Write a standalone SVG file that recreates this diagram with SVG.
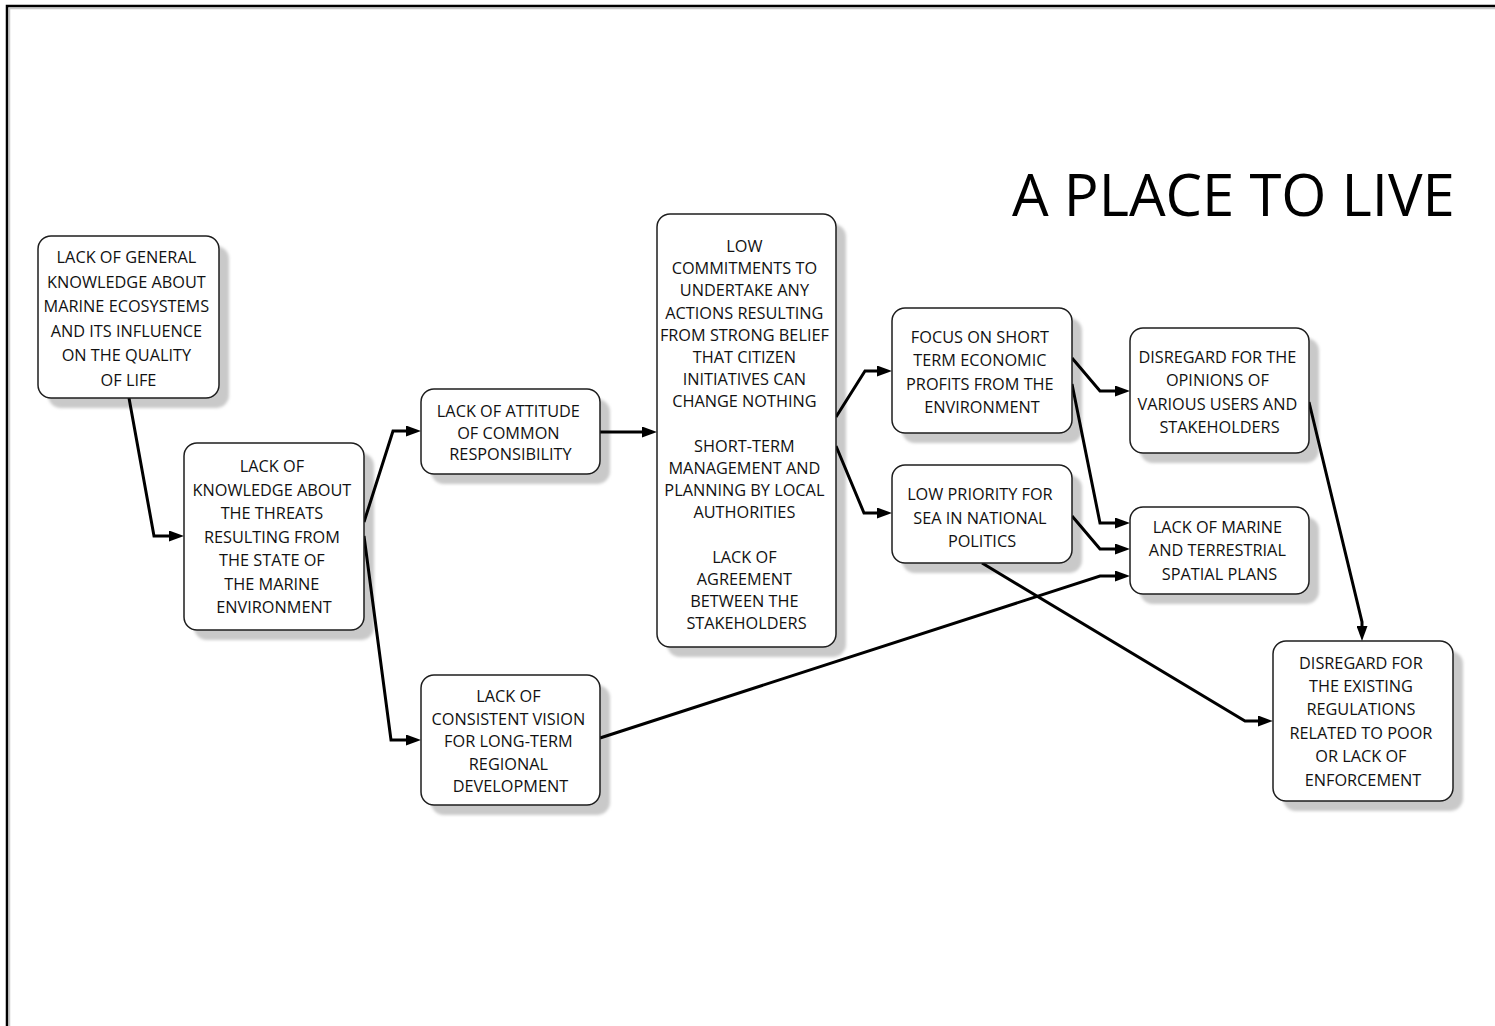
<svg xmlns="http://www.w3.org/2000/svg" width="1495" height="1026" viewBox="0 0 1495 1026">
  <defs>
    <style>
      .box { fill: #ffffff; stroke: #1e1e1e; stroke-width: 1.5; }
      .shadow { fill: #c9c9c9; filter: url(#soft); }
      .lbl { font-family: "Open Sans", "Noto Sans", "DejaVu Sans", sans-serif; font-size: 16.3px; fill: #111111; text-anchor: middle; }
      .title { font-family: "Open Sans", "Noto Sans", "DejaVu Sans", sans-serif; font-size: 58px; fill: #000000; }
      .edge { fill: none; stroke: #000000; stroke-width: 3; stroke-linejoin: miter; marker-end: url(#arrow); }
    </style>
    <filter id="soft" x="-20%" y="-20%" width="140%" height="140%">
      <feGaussianBlur stdDeviation="1.6"/>
    </filter>
    <marker id="arrow" viewBox="0 0 15 11" refX="1" refY="5.5" markerWidth="15" markerHeight="11" markerUnits="userSpaceOnUse" orient="auto">
      <path d="M0,0 L15,5.5 L0,11 z" fill="#000000"/>
    </marker>
  </defs>

  <rect width="1495" height="1026" fill="#ffffff"/>

  <!-- page frame -->
  <g id="frame">
    <path d="M9.5,1030 L9.5,8.5 L1500,8.5" fill="none" stroke="#c8c8c8" stroke-width="1.5"/>
    <path d="M7,1030 L7,6 L1500,6" fill="none" stroke="#000000" stroke-width="2.5"/>
  </g>

  <text id="title" class="title" x="1012" y="216">A PLACE TO LIVE</text>

  <!-- shadows -->
  <g id="shadows">
    <rect class="shadow" x="48" y="246" width="181" height="162" rx="13"/>
    <rect class="shadow" x="194" y="453" width="180" height="187" rx="13"/>
    <rect class="shadow" x="431" y="399" width="179" height="85" rx="13"/>
    <rect class="shadow" x="667" y="224" width="179" height="433" rx="13"/>
    <rect class="shadow" x="902" y="318" width="180" height="125" rx="13"/>
    <rect class="shadow" x="902" y="475" width="180" height="98" rx="13"/>
    <rect class="shadow" x="1140" y="338" width="179" height="125" rx="13"/>
    <rect class="shadow" x="1140" y="517" width="179" height="87" rx="13"/>
    <rect class="shadow" x="1283" y="651" width="180" height="160" rx="13"/>
    <rect class="shadow" x="431" y="685" width="179" height="130" rx="13"/>
  </g>

  <!-- connectors -->
  <g id="connectors">
    <path class="edge" d="M129,398 L154,536 L170,536"/>
    <path class="edge" d="M364,522 L393,431 L407,431"/>
    <path class="edge" d="M364,536 L391,740 L407,740"/>
    <path class="edge" d="M600,432 L643,432"/>
    <path class="edge" d="M836,417 L865,371 L878,371"/>
    <path class="edge" d="M836,446 L864,513 L878,513"/>
    <path class="edge" d="M1072,358 L1100,391 L1116,391"/>
    <path class="edge" d="M1072,384 L1100,523 L1116,523"/>
    <path class="edge" d="M1072,516 L1100,549 L1116,549"/>
    <path class="edge" d="M600,738 L1100,576 L1116,576"/>
    <path class="edge" d="M982,563 L1245,721 L1259,721"/>
    <path class="edge" d="M1309,402 L1362,622 L1362,627"/>
  </g>

  <g id="n1">
    <rect class="box" x="38" y="236" width="181" height="162" rx="13"/>
    <text class="lbl">
      <tspan x="128.5" y="263">LACK OF GENERAL</tspan>
      <tspan x="128.5" y="287.5">KNOWLEDGE ABOUT</tspan>
      <tspan x="128.5" y="312">MARINE ECOSYSTEMS</tspan>
      <tspan x="128.5" y="336.5">AND ITS INFLUENCE</tspan>
      <tspan x="128.5" y="361">ON THE QUALITY</tspan>
      <tspan x="128.5" y="385.5">OF LIFE</tspan>
    </text>
  </g>

  <g id="n2">
    <rect class="box" x="184" y="443" width="180" height="187" rx="13"/>
    <text class="lbl">
      <tspan x="274" y="472">LACK OF</tspan>
      <tspan x="274" y="495.5">KNOWLEDGE ABOUT</tspan>
      <tspan x="274" y="519">THE THREATS</tspan>
      <tspan x="274" y="542.5">RESULTING FROM</tspan>
      <tspan x="274" y="566">THE STATE OF</tspan>
      <tspan x="274" y="589.5">THE MARINE</tspan>
      <tspan x="274" y="613">ENVIRONMENT</tspan>
    </text>
  </g>

  <g id="n3">
    <rect class="box" x="421" y="389" width="179" height="85" rx="13"/>
    <text class="lbl">
      <tspan x="510.5" y="417">LACK OF ATTITUDE</tspan>
      <tspan x="510.5" y="438.5">OF COMMON</tspan>
      <tspan x="510.5" y="460">RESPONSIBILITY</tspan>
    </text>
  </g>

  <g id="n4">
    <rect class="box" x="657" y="214" width="179" height="433" rx="13"/>
    <text class="lbl">
      <tspan x="746.5" y="252">LOW</tspan>
      <tspan x="746.5" y="274.2">COMMITMENTS TO</tspan>
      <tspan x="746.5" y="296.4">UNDERTAKE ANY</tspan>
      <tspan x="746.5" y="318.6">ACTIONS RESULTING</tspan>
      <tspan x="746.5" y="340.8">FROM STRONG BELIEF</tspan>
      <tspan x="746.5" y="363">THAT CITIZEN</tspan>
      <tspan x="746.5" y="385.2">INITIATIVES CAN</tspan>
      <tspan x="746.5" y="407.4">CHANGE NOTHING</tspan>
      <tspan x="746.5" y="451.8">SHORT-TERM</tspan>
      <tspan x="746.5" y="474">MANAGEMENT AND</tspan>
      <tspan x="746.5" y="496.2">PLANNING BY LOCAL</tspan>
      <tspan x="746.5" y="518.4">AUTHORITIES</tspan>
      <tspan x="746.5" y="562.8">LACK OF</tspan>
      <tspan x="746.5" y="585">AGREEMENT</tspan>
      <tspan x="746.5" y="607.2">BETWEEN THE</tspan>
      <tspan x="746.5" y="629.4">STAKEHOLDERS</tspan>
    </text>
  </g>

  <g id="n5">
    <rect class="box" x="892" y="308" width="180" height="125" rx="13"/>
    <text class="lbl">
      <tspan x="982" y="343">FOCUS ON SHORT</tspan>
      <tspan x="982" y="366.3">TERM ECONOMIC</tspan>
      <tspan x="982" y="389.6">PROFITS FROM THE</tspan>
      <tspan x="982" y="413">ENVIRONMENT</tspan>
    </text>
  </g>

  <g id="n6">
    <rect class="box" x="892" y="465" width="180" height="98" rx="13"/>
    <text class="lbl">
      <tspan x="982" y="500">LOW PRIORITY FOR</tspan>
      <tspan x="982" y="523.5">SEA IN NATIONAL</tspan>
      <tspan x="982" y="547">POLITICS</tspan>
    </text>
  </g>

  <g id="n7">
    <rect class="box" x="1130" y="328" width="179" height="125" rx="13"/>
    <text class="lbl">
      <tspan x="1219.5" y="363">DISREGARD FOR THE</tspan>
      <tspan x="1219.5" y="386.3">OPINIONS OF</tspan>
      <tspan x="1219.5" y="409.6">VARIOUS USERS AND</tspan>
      <tspan x="1219.5" y="433">STAKEHOLDERS</tspan>
    </text>
  </g>

  <g id="n8">
    <rect class="box" x="1130" y="507" width="179" height="87" rx="13"/>
    <text class="lbl">
      <tspan x="1219.5" y="533">LACK OF MARINE</tspan>
      <tspan x="1219.5" y="556">AND TERRESTRIAL</tspan>
      <tspan x="1219.5" y="579.5">SPATIAL PLANS</tspan>
    </text>
  </g>

  <g id="n9">
    <rect class="box" x="1273" y="641" width="180" height="160" rx="13"/>
    <text class="lbl">
      <tspan x="1363" y="668.5">DISREGARD FOR</tspan>
      <tspan x="1363" y="692">THE EXISTING</tspan>
      <tspan x="1363" y="715.3">REGULATIONS</tspan>
      <tspan x="1363" y="738.6">RELATED TO POOR</tspan>
      <tspan x="1363" y="762">OR LACK OF</tspan>
      <tspan x="1363" y="785.5">ENFORCEMENT</tspan>
    </text>
  </g>

  <g id="n10">
    <rect class="box" x="421" y="675" width="179" height="130" rx="13"/>
    <text class="lbl">
      <tspan x="510.5" y="702">LACK OF</tspan>
      <tspan x="510.5" y="724.5">CONSISTENT VISION</tspan>
      <tspan x="510.5" y="747">FOR LONG-TERM</tspan>
      <tspan x="510.5" y="769.5">REGIONAL</tspan>
      <tspan x="510.5" y="792">DEVELOPMENT</tspan>
    </text>
  </g>
</svg>
